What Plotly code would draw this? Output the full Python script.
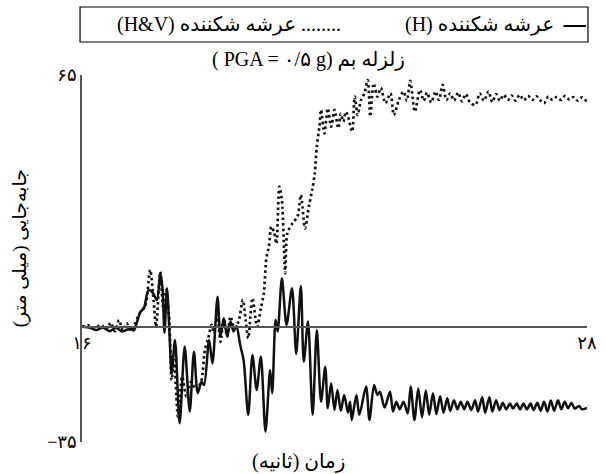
import plotly.graph_objects as go

# ---------------- data ----------------
# Time (s) and displacement (mm) of the frangible deck, horizontal excitation only (H)
t_h = [16.00, 16.19, 16.34, 16.50, 16.65, 16.81, 16.96, 17.12, 17.23, 17.31,
       17.39, 17.47, 17.58, 17.68, 17.78, 17.86, 17.91, 17.96, 18.02, 18.08,
       18.13, 18.21, 18.32, 18.44, 18.56, 18.66, 18.75, 18.84, 18.90, 19.02,
       19.10, 19.22, 19.29, 19.37, 19.45, 19.53, 19.60, 19.67, 19.76, 19.84,
       19.95, 20.05, 20.15, 20.25, 20.36, 20.47, 20.52, 20.60, 20.65, 20.75,
       20.86, 20.99, 21.09, 21.20, 21.27, 21.37, 21.48, 21.58, 21.68, 21.78,
       21.84, 21.92, 22.00, 22.07, 22.15, 22.23, 22.32, 22.37, 22.41, 22.52,
       22.59, 22.75, 22.83, 22.94, 23.02, 23.08, 23.19, 23.32, 23.39, 23.47,
       23.55, 23.64, 23.74, 23.81, 23.90, 23.99, 24.08, 24.17, 24.25, 24.34,
       24.42, 24.51, 24.59, 24.68, 24.75, 24.84, 24.92, 25.00, 25.08, 25.16,
       25.25, 25.34, 25.41, 25.51, 25.58, 25.68, 25.75, 25.84, 25.92, 26.00,
       26.08, 26.17, 26.24, 26.33, 26.41, 26.49, 26.57, 26.66, 26.73, 26.82,
       26.90, 26.98, 27.06, 27.14, 27.22, 27.31, 27.39, 27.47, 27.55, 27.63,
       27.71, 27.81, 27.88, 28.00]
disp_h = [-3.6, -3.9, -4.5, -3.8, -4.8, -3.9, -4.9, -4.2, -4.6, -2.2,
          0.5, 1.4, 6.4, 5.7, 3.7, 11.0, 7.3, -5.2, 6.9, -5.8,
          -16.3, -7.2, -29.9, -9.0, -26.7, -10.4, -21.7, -18.6, -19.5, -7.2,
          -13.6, 4.6, -6.3, -1.3, -6.3, -2.2, -4.9, -3.4, -8.6, -12.7,
          -27.6, -11.3, -20.8, -11.7, -32.2, -15.4, -21.7, -1.7, -4.9, 9.6,
          -3.1, 6.9, -11.0, 7.5, -13.1, -2.2, -27.6, -4.5, -24.0, -14.5,
          -25.8, -19.0, -26.3, -20.8, -26.5, -22.2, -27.0, -24.0, -29.0, -22.2,
          -27.6, -19.9, -29.0, -19.5, -22.2, -21.3, -25.6, -21.3, -26.7, -24.0,
          -26.1, -24.0, -27.2, -19.9, -29.0, -20.4, -28.3, -21.0, -27.6, -21.7,
          -27.4, -22.5, -27.0, -23.1, -26.5, -23.6, -26.1, -24.0, -26.1, -24.0,
          -26.3, -23.6, -26.7, -22.8, -27.0, -22.8, -26.7, -23.6, -26.3, -24.3,
          -26.1, -24.5, -25.9, -24.5, -26.1, -24.5, -26.1, -24.5, -26.3, -24.3,
          -26.5, -24.0, -26.7, -23.7, -26.5, -23.6, -26.1, -24.0, -25.8, -24.3,
          -25.9, -25.2, -26.1, -25.7]

# Frangible deck, horizontal + vertical excitation (H&V)
t_hv = [16.00, 16.15, 16.30, 16.45, 16.58, 16.68, 16.78, 16.88, 16.97, 17.06,
        17.15, 17.25, 17.35, 17.43, 17.51, 17.62, 17.70, 17.76, 17.86, 17.93,
        17.99, 18.07, 18.13, 18.19, 18.28, 18.38, 18.48, 18.59, 18.71, 18.83,
        18.92, 19.00, 19.08, 19.14, 19.22, 19.29, 19.37, 19.45, 19.53, 19.62,
        19.72, 19.82, 19.89, 19.95, 20.05, 20.16, 20.25, 20.32, 20.38, 20.44,
        20.50, 20.57, 20.62, 20.69, 20.75, 20.83, 20.88, 21.00, 21.12, 21.20,
        21.30, 21.39, 21.47, 21.53, 21.58, 21.64, 21.68, 21.76, 21.84, 21.92,
        22.00, 22.09, 22.15, 22.21, 22.27, 22.32, 22.42, 22.48, 22.55, 22.63,
        22.71, 22.79, 22.85, 22.93, 23.02, 23.10, 23.21, 23.33, 23.41, 23.53,
        23.64, 23.72, 23.80, 23.91, 24.03, 24.12, 24.20, 24.30, 24.40, 24.48,
        24.57, 24.66, 24.75, 24.84, 24.94, 25.03, 25.12, 25.22, 25.35, 25.45,
        25.55, 25.66, 25.75, 25.84, 25.93, 26.02, 26.12, 26.21, 26.30, 26.40,
        26.50, 26.60, 26.70, 26.80, 26.90, 26.98, 27.08, 27.18, 27.28, 27.38,
        27.48, 27.58, 27.68, 27.78, 27.88, 28.00]
disp_hv = [-3.6, -3.2, -4.0, -3.1, -4.4, -2.5, -4.8, -1.8, -4.6, -2.6,
           -4.7, -3.0, -0.4, 1.0, 2.3, 11.9, 3.7, -3.6, 11.4, 1.4,
           6.4, -0.8, -18.1, -12.7, -28.1, -17.2, -22.6, -18.6, -20.8, -18.6,
           -9.9, -6.7, -3.1, -5.4, -0.4, -7.7, -1.3, -6.3, -0.8, -4.0,
           -2.2, 3.7, -1.8, -6.7, 4.2, -3.6, 1.4, 5.5, 15.0, 18.2,
           23.7, 21.9, 19.0, 34.6, 30.9, 11.0, 21.9, 24.6, 26.4, 32.3,
           23.2, 29.1, 33.7, 38.2, 45.5, 50.9, 55.5, 49.1, 55.9, 50.9,
           55.5, 50.5, 54.5, 52.3, 55.0, 53.7, 49.6, 59.1, 54.1, 58.2,
           60.0, 63.6, 53.7, 62.7, 59.1, 61.5, 57.3, 60.0, 54.1, 58.2,
           60.5, 58.0, 63.4, 55.0, 60.9, 58.0, 60.2, 57.5, 60.5, 58.2,
           62.3, 58.2, 60.0, 58.0, 60.2, 57.8, 59.8, 57.5, 56.8, 60.0,
           58.0, 60.5, 57.6, 59.8, 58.0, 59.6, 58.2, 59.4, 58.0, 59.6,
           58.1, 59.3, 58.2, 59.2, 58.0, 57.3, 59.1, 58.2, 59.0, 58.2,
           59.3, 58.3, 59.0, 58.0, 58.9, 57.7]

x_tick_vals = [16, 28]
x_tick_text = ["۱۶", "۲۸"]
y_tick_vals = [-35, 65]
y_tick_text = ["−۳۵", "۶۵"]

name_h = "عرشه شکننده (H)"
name_hv = "عرشه شکننده (H&V)"

# ---------------- figure ----------------
FONT = "Liberation Serif, DejaVu Sans, serif"
W, H = 606, 474
ML, MR, MT, MB = 82, 9, 75, 32
PW, PH = W - ML - MR, H - MT - MB


def px(xp):
    return (xp - ML) / PW


def py(yp):
    return (H - MB - yp) / PH


fig = go.Figure()
fig.add_trace(go.Scatter(
    x=t_hv, y=disp_hv, mode="lines", name=name_hv,
    line=dict(color="#111111", width=2.7, dash="2.5px,3px", shape="spline", smoothing=0.8),
))
fig.add_trace(go.Scatter(
    x=t_h, y=disp_h, mode="lines", name=name_h,
    line=dict(color="#111111", width=2.5, shape="spline", smoothing=0.8),
))

fig.update_layout(
    width=W, height=H,
    margin=dict(l=ML, r=MR, t=MT, b=MB),
    paper_bgcolor="white", plot_bgcolor="white",
    showlegend=False,
    font=dict(family=FONT, size=19, color="black"),
)
fig.update_xaxes(
    range=[16, 28], tickvals=x_tick_vals, ticktext=x_tick_text,
    showline=True, linecolor="#555555", linewidth=1.5,
    showgrid=False, zeroline=False, ticks="",
    anchor="free", position=py(326.5),
    ticklabeloverflow="allow",
    tickfont=dict(family=FONT, size=18, color="black"),
)
fig.update_yaxes(
    range=[-35, 65], tickvals=y_tick_vals, ticktext=y_tick_text,
    showline=True, linecolor="#555555", linewidth=1.5,
    showgrid=False, zeroline=False, ticks="",
    tickfont=dict(family=FONT, size=18, color="black"),
)

annos = [
    # title (visual order for left-to-right base direction)
    dict(text="( PGA = ۰/۵ g) زلزله بم", x=px(213), y=py(60), xanchor="left", yanchor="middle", size=20),
    # axis titles
    dict(text="\u200fزمان (ثانیه)\u200f", x=px(303), y=py(462), xanchor="center", yanchor="middle", size=20),
    dict(text="\u200fجابه\u200cجایی (میلی متر)\u200f", x=px(19), y=py(248), xanchor="center",
         yanchor="middle", textangle=-90, size=19),
    # legend entries
    dict(text="(H&amp;V) عرشه شکننده ........", x=px(116), y=py(24), xanchor="left", yanchor="middle", size=20),
    dict(text="(H) عرشه شکننده", x=px(565), y=py(24), xanchor="right", yanchor="middle", size=20),
]
for a in annos:
    size = a.pop("size")
    fig.add_annotation(xref="paper", yref="paper", showarrow=False,
                       font=dict(family=FONT, size=size, color="black"), **a)

# legend frame and solid-line sample
fig.add_shape(type="rect", xref="paper", yref="paper",
              x0=px(80), x1=px(598), y0=py(42), y1=py(7),
              line=dict(color="black", width=1.2), fillcolor="rgba(0,0,0,0)")
fig.add_shape(type="line", xref="paper", yref="paper",
              x0=px(573), x1=px(596), y0=py(26), y1=py(26),
              line=dict(color="black", width=2))

fig.write_html("out.html")
